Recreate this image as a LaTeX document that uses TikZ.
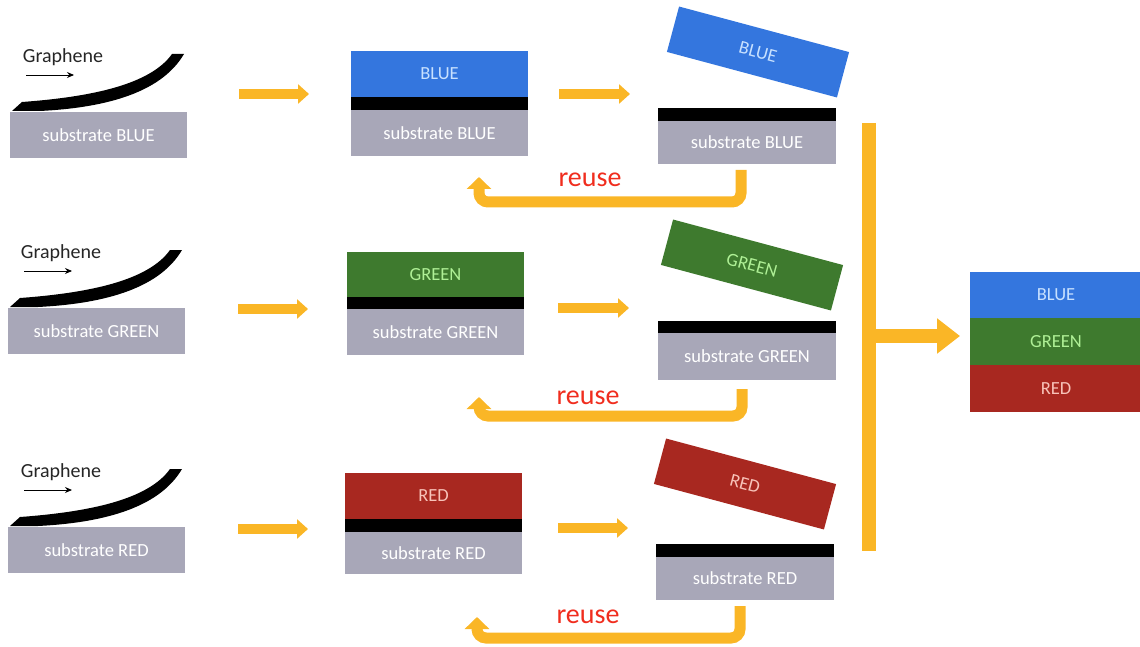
\documentclass[tikz,border=0pt]{standalone}
\usepackage{fontspec}
\setmainfont{Carlito}
\usetikzlibrary{arrows.meta}
\definecolor{subgray}{RGB}{168,167,184}
\definecolor{lblue}{RGB}{52,118,222}
\definecolor{lgreen}{RGB}{62,122,46}
\definecolor{lred}{RGB}{168,40,32}
\definecolor{tblue}{RGB}{200,225,255}
\definecolor{tgreen}{RGB}{175,240,150}
\definecolor{tred}{RGB}{248,195,185}
\definecolor{oarrow}{RGB}{250,182,38}
\definecolor{reusered}{RGB}{240,45,30}
\newcommand\fsz[1]{\fontsize{#1}{#1}\selectfont}
\begin{document}
\begin{tikzpicture}[x=1pt,y=-1pt,
  base/.style={inner sep=0pt, outer sep=0pt, anchor=north west, minimum width=177pt},
  sub/.style={base, fill=subgray, text=white, minimum height=46pt, font=\fsz{18.5}},
  film/.style={base, fill=black, minimum height=13pt},
  layer/.style={base, minimum height=46pt, font=\fsz{18.5}},
  blue/.style={fill=lblue, text=tblue},
  green/.style={fill=lgreen, text=tgreen},
  red/.style={fill=lred, text=tred},
  tilted/.style={inner sep=0pt, outer sep=0pt, minimum width=176pt, minimum height=47pt, rotate=-15, font=\fsz{18.5}},
  straight/.style={draw=oarrow, line width=10pt, -{Triangle[width=19pt,length=11pt]}},
  reusearrow/.style={draw=oarrow, line width=11pt, rounded corners=9pt, -{Triangle[width=24pt,length=12pt]}},
  reusetext/.style={text=reusered, font=\fsz{28}},
  graphene/.pic={
    \fill[black] (2,-1) -- (12,-10) .. controls (80,-15) and (140,-27) .. (162,-58)
       -- (174,-58) .. controls (150,-17) and (90,-4) .. (30,-1) -- cycle;
    \node[font=\fsz{20}, text=black!85] (-lbl) at (53,-55) {Graphene};
    \coordinate (-a) at (16,-37);
    \coordinate (-b) at (64,-37);
    \draw[-{Stealth[length=7pt,width=6pt]}, line width=0.9pt] (-a) -- (-b);
  }
]
\useasboundingbox (0,0) rectangle (1140,647);

% ---------- row 1 (BLUE) ----------
\node[sub] (s1a) at (10,112) {substrate BLUE};
\pic (g1) at (10,112) {graphene};
\node[layer, blue] (c1b) at (351,51) {BLUE};
\node[film] (f1b) at (351,97) {};
\node[sub] (s1b) at (351,110) {substrate BLUE};
\node[tilted, fill=lblue, text=tblue] (c1c) at (758,52) {BLUE};
\node[film, minimum width=178pt] (f1c) at (658,108) {};
\node[sub, minimum width=178pt, minimum height=43pt] (s1c) at (658,121) {substrate BLUE};
\coordinate (a1s) at (239,94); \coordinate (a1e) at (309,94);
\coordinate (b1s) at (559,94); \coordinate (b1e) at (630,94);
\draw[straight] (a1s) -- (a1e);
\draw[straight] (b1s) -- (b1e);
\coordinate (r1s) at (741,170); \coordinate (r1e) at (479,177);
\draw[reusearrow] (r1s) -- (741,202) -- (479,202) -- (r1e);
\node[reusetext] (t1) at (590,180) {reuse};

% ---------- row 2 (GREEN) ----------
\node[sub] (s2a) at (8,308) {substrate GREEN};
\pic (g2) at (8,308) {graphene};
\node[layer, green, minimum height=45pt] (c2b) at (347,252) {GREEN};
\node[film, minimum height=12pt] (f2b) at (347,297) {};
\node[sub] (s2b) at (347,309) {substrate GREEN};
\node[tilted, fill=lgreen, text=tgreen] (c2c) at (752,265) {GREEN};
\node[film, minimum width=178pt, minimum height=12pt] (f2c) at (658,321) {};
\node[sub, minimum width=178pt, minimum height=47pt] (s2c) at (658,333) {substrate GREEN};
\coordinate (a2s) at (238,309); \coordinate (a2e) at (308,309);
\coordinate (b2s) at (558,308); \coordinate (b2e) at (629,308);
\draw[straight] (a2s) -- (a2e);
\draw[straight] (b2s) -- (b2e);
\coordinate (r2s) at (742,389); \coordinate (r2e) at (479,397);
\draw[reusearrow] (r2s) -- (742,416) -- (479,416) -- (r2e);
\node[reusetext] (t2) at (588,398) {reuse};

% ---------- row 3 (RED) ----------
\node[sub] (s3a) at (8,527) {substrate RED};
\pic (g3) at (8,527) {graphene};
\node[layer, red] (c3b) at (345,473) {RED};
\node[film] (f3b) at (345,519) {};
\node[sub, minimum height=42pt] (s3b) at (345,532) {substrate RED};
\node[tilted, fill=lred, text=tred] (c3c) at (745,484) {RED};
\node[film, minimum width=178pt] (f3c) at (656,544) {};
\node[sub, minimum width=178pt, minimum height=43pt] (s3c) at (656,557) {substrate RED};
\coordinate (a3s) at (238,529); \coordinate (a3e) at (308,529);
\coordinate (b3s) at (558,528); \coordinate (b3e) at (628,528);
\draw[straight] (a3s) -- (a3e);
\draw[straight] (b3s) -- (b3e);
\coordinate (r3s) at (740,606); \coordinate (r3e) at (477,617);
\draw[reusearrow] (r3s) -- (740,638) -- (477,638) -- (r3e);
\node[reusetext] (t3) at (588,617) {reuse};

% ---------- merge ----------
\coordinate (vtop) at (869,123);
\coordinate (vbot) at (869,551);
\coordinate (vmid) at (869,336);
\coordinate (vend) at (960,336);
\draw[draw=oarrow, line width=14pt] (vtop) -- (vbot);
\draw[draw=oarrow, line width=14pt, -{Triangle[width=34pt,length=23pt]}] (vmid) -- (vend);

\node[layer, blue, minimum width=172pt] (fb) at (970,272) {BLUE};
\node[layer, green, minimum width=172pt, minimum height=47pt] (fg) at (970,318) {GREEN};
\node[layer, red, minimum width=172pt, minimum height=47pt] (fr) at (970,365) {RED};
\end{tikzpicture}
\end{document}
